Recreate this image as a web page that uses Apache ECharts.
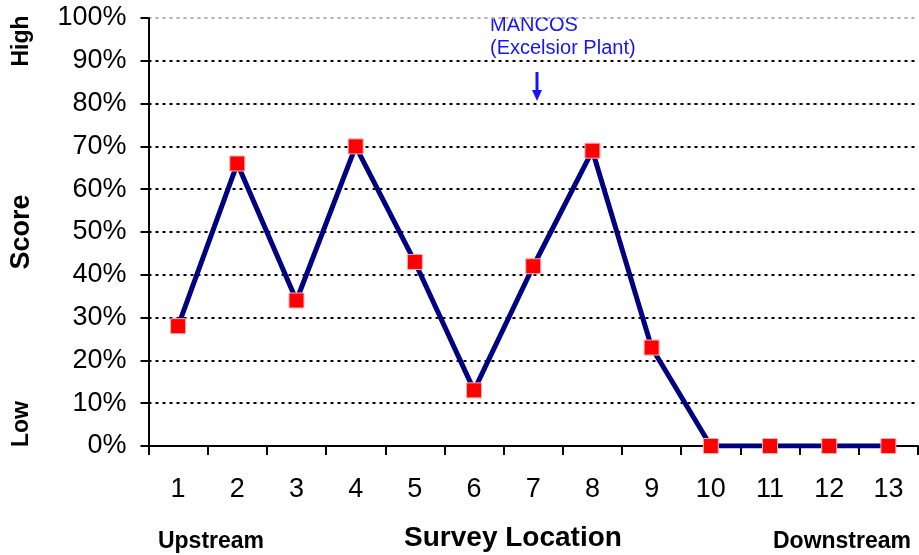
<!DOCTYPE html>
<html><head><meta charset="utf-8">
<script src="https://cdn.jsdelivr.net/npm/echarts@6/dist/echarts.min.js"></script>
<style>html,body{margin:0;padding:0;background:#fff}#c{width:919px;height:555px}</style>
</head><body><div id="c"></div>
<script>
const categories = ['1','2','3','4','5','6','7','8','9','10','11','12','13'];
const scores = [28, 66, 34, 70, 43, 13, 42, 69, 23, 0, 0, 0, 0];
const yTicks = [0,10,20,30,40,50,60,70,80,90,100];
const FONT = '"Liberation Sans", Arial, sans-serif';
const chart = echarts.init(document.getElementById('c'));
const gridColors = yTicks.map((v,i)=> i===yTicks.length-1 ? '#b0b0b0' : '#000');
function label(text, x, y, size, opts){
  return Object.assign({type:'text',x:x,y:y,style:{text:text,fill:'#000',fontSize:size,fontWeight:'bold',fontFamily:FONT,align:'center',verticalAlign:'middle'}}, opts||{});
}
chart.setOption({
  animation:false,
  backgroundColor:'#fff',
  grid:{left:148,right:1,top:18,bottom:109},
  xAxis:{type:'category',data:categories,boundaryGap:true,
    axisLine:{lineStyle:{color:'#000',width:2}},
    axisTick:{show:true,length:9,lineStyle:{color:'#000',width:2}},
    axisLabel:{color:'#000',fontSize:27,fontFamily:FONT,margin:30}
  },
  yAxis:{type:'value',min:0,max:100,interval:10,
    axisLine:{show:true,lineStyle:{color:'#000',width:2}},
    axisTick:{show:true,length:8,lineStyle:{color:'#000',width:2}},
    axisLabel:{color:'#000',fontSize:27,fontFamily:FONT,margin:22,formatter:'{value}%'},
    splitLine:{show:true,lineStyle:{color:gridColors,width:2,type:[3,4]}},
    name:'Score',nameLocation:'middle',nameGap:127,
    nameTextStyle:{color:'#000',fontSize:27,fontWeight:'bold',fontFamily:FONT,verticalAlign:'middle'}
  },
  graphic:[
    label('High', 22, 41, 23, {rotation:Math.PI/2}),
    label('Low', 22, 424, 23, {rotation:Math.PI/2}),
    label('Upstream', 211, 542, 23),
    label('Downstream', 842, 542, 23),
    label('Survey Location', 513, 538, 28),
    {type:'text',x:490,y:25,style:{text:'MANCOS',fill:'#1414ff',fontSize:20,fontFamily:FONT,align:'left',verticalAlign:'middle'}},
    {type:'text',x:490,y:48,style:{text:'(Excelsior Plant)',fill:'#1414ff',fontSize:20,fontFamily:FONT,align:'left',verticalAlign:'middle'}},
    {type:'line',shape:{x1:537,y1:72,x2:537,y2:92},style:{stroke:'#1414ff',lineWidth:3}},
    {type:'polygon',shape:{points:[[532,90],[542,90],[537,101]]},style:{fill:'#1414ff'}}
  ],
  series:[{type:'line',data:scores,symbol:'rect',symbolSize:15,
    lineStyle:{color:'#000080',width:5},
    itemStyle:{color:'#ff0000',borderColor:'#ffb0b0',borderWidth:1},
    z:3}]
});
</script></body></html>
